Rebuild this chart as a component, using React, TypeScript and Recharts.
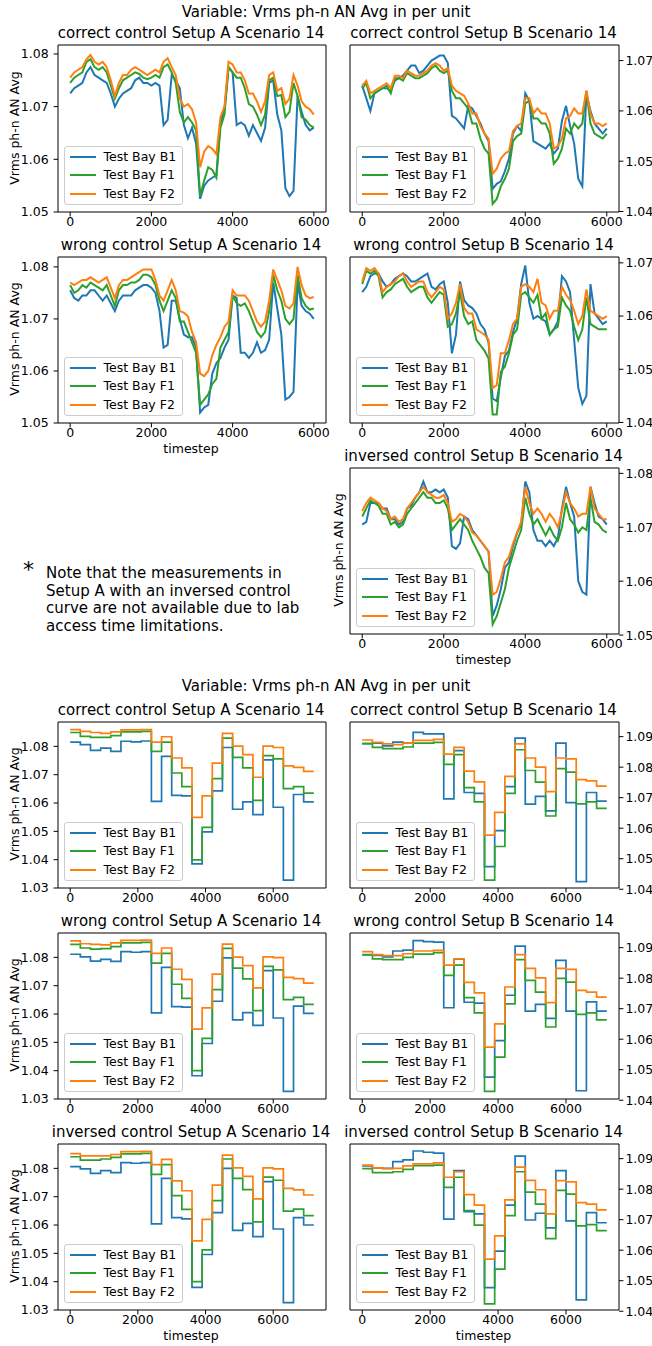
import React from 'react';
import { LineChart, Line, XAxis, YAxis, ReferenceArea, Legend } from 'recharts';

const FONT = '"DejaVu Sans", Verdana, sans-serif';
const TICK_FS = 12.5;
const TITLE_FS = 15;

// timesteps of the raw measurements (read every 100 steps)
const tsFine = [
  0, 100, 200, 300, 400, 500, 600, 700, 800, 900,
  1000, 1100, 1200, 1300, 1400, 1500, 1600, 1700, 1800, 1900,
  2000, 2100, 2200, 2300, 2400, 2500, 2600, 2700, 2800, 2900,
  3000, 3100, 3200, 3300, 3400, 3500, 3600, 3700, 3800, 3900,
  4000, 4100, 4200, 4300, 4400, 4500, 4600, 4700, 4800, 4900,
  5000, 5100, 5200, 5300, 5400, 5500, 5600, 5700, 5800, 5900,
  6000,
];

// step boundaries of the simulated profiles
const tsStep = [
  0, 300, 600, 900, 1200, 1500, 1800, 2100, 2400, 2700, 3000, 3300,
  3600, 3900, 4200, 4500, 4800, 5100, 5400, 5700, 6000, 6300, 6600, 6900, 7200,
];

// ---- measurements: correct control, setup A
const corrA_b1 = [
  1.0725, 1.0735, 1.0740, 1.0745, 1.0765, 1.0775, 1.0760, 1.0755, 1.0750, 1.0745,
  1.0725, 1.0700, 1.0715, 1.0725, 1.0730, 1.0735, 1.0750, 1.0755, 1.0745, 1.0745,
  1.0740, 1.0745, 1.0740, 1.0665, 1.0675, 1.0760, 1.0750, 1.0735, 1.0665, 1.0640,
  1.0660, 1.0630, 1.0525, 1.0550, 1.0560, 1.0565, 1.0570, 1.0670, 1.0695, 1.0775,
  1.0765, 1.0665, 1.0670, 1.0665, 1.0645, 1.0665, 1.0650, 1.0635, 1.0660, 1.0745,
  1.0750, 1.0685, 1.0655, 1.0545, 1.0530, 1.0540, 1.0720, 1.0690, 1.0665, 1.0655,
  1.0660,
];
const corrA_f1 = [
  1.0745, 1.0755, 1.0760, 1.0765, 1.0785, 1.0790, 1.0775, 1.0770, 1.0775, 1.0765,
  1.0740, 1.0715, 1.0735, 1.0750, 1.0755, 1.0760, 1.0765, 1.0762, 1.0755, 1.0752,
  1.0755, 1.0760, 1.0755, 1.0775, 1.0780, 1.0765, 1.0745, 1.0690, 1.0670, 1.0680,
  1.0670, 1.0655, 1.0530, 1.0560, 1.0585, 1.0580, 1.0565, 1.0660, 1.0685, 1.0775,
  1.0765, 1.0755, 1.0755, 1.0735, 1.0705, 1.0700, 1.0685, 1.0665, 1.0685, 1.0750,
  1.0755, 1.0720, 1.0722, 1.0680, 1.0690, 1.0745, 1.0720, 1.0680, 1.0675, 1.0665,
  1.0660,
];
const corrA_f2 = [
  1.0755, 1.0765, 1.0770, 1.0775, 1.0790, 1.0798, 1.0785, 1.0780, 1.0785, 1.0775,
  1.0750, 1.0720, 1.0745, 1.0760, 1.0760, 1.0770, 1.0775, 1.0770, 1.0765, 1.0760,
  1.0765, 1.0770, 1.0765, 1.0785, 1.0792, 1.0775, 1.0760, 1.0715, 1.0700, 1.0705,
  1.0695, 1.0670, 1.0585, 1.0615, 1.0625, 1.0620, 1.0610, 1.0680, 1.0700, 1.0785,
  1.0780, 1.0765, 1.0765, 1.0750, 1.0725, 1.0725, 1.0710, 1.0690, 1.0710, 1.0760,
  1.0765, 1.0730, 1.0735, 1.0705, 1.0715, 1.0760, 1.0740, 1.0710, 1.0700, 1.0695,
  1.0685,
];

// ---- measurements: correct control, setup B
const corrB_b1 = [
  1.0650, 1.0625, 1.0600, 1.0635, 1.0640, 1.0645, 1.0645, 1.0640, 1.0660, 1.0665,
  1.0670, 1.0680, 1.0690, 1.0690, 1.0675, 1.0680, 1.0690, 1.0700, 1.0705, 1.0710,
  1.0710, 1.0695, 1.0590, 1.0585, 1.0575, 1.0565, 1.0610, 1.0605, 1.0590, 1.0575,
  1.0555, 1.0540, 1.0445, 1.0455, 1.0460, 1.0480, 1.0505, 1.0555, 1.0570, 1.0560,
  1.0635, 1.0620, 1.0540, 1.0535, 1.0530, 1.0525, 1.0535, 1.0515, 1.0525, 1.0580,
  1.0610, 1.0570, 1.0535, 1.0465, 1.0450, 1.0635, 1.0600, 1.0575, 1.0565, 1.0555,
  1.0565,
];
const corrB_f1 = [
  1.0645, 1.0655, 1.0625, 1.0635, 1.0640, 1.0645, 1.0650, 1.0635, 1.0665, 1.0665,
  1.0660, 1.0675, 1.0670, 1.0665, 1.0665, 1.0670, 1.0675, 1.0685, 1.0690, 1.0680,
  1.0675, 1.0680, 1.0640, 1.0625, 1.0625, 1.0615, 1.0605, 1.0575, 1.0575, 1.0545,
  1.0525, 1.0515, 1.0415, 1.0425, 1.0450, 1.0465, 1.0485, 1.0540, 1.0550, 1.0555,
  1.0615, 1.0620, 1.0585, 1.0585, 1.0575, 1.0575, 1.0555, 1.0495, 1.0505, 1.0525,
  1.0565, 1.0555, 1.0575, 1.0565, 1.0575, 1.0640, 1.0575, 1.0555, 1.0550, 1.0545,
  1.0555,
];
const corrB_f2 = [
  1.0650, 1.0660, 1.0635, 1.0640, 1.0645, 1.0650, 1.0655, 1.0645, 1.0670, 1.0670,
  1.0665, 1.0680, 1.0675, 1.0670, 1.0670, 1.0675, 1.0680, 1.0690, 1.0695, 1.0690,
  1.0680, 1.0685, 1.0650, 1.0640, 1.0635, 1.0630, 1.0615, 1.0595, 1.0595, 1.0570,
  1.0555, 1.0545, 1.0475, 1.0485, 1.0505, 1.0515, 1.0520, 1.0560, 1.0570, 1.0575,
  1.0625, 1.0625, 1.0595, 1.0605, 1.0595, 1.0595, 1.0575, 1.0525, 1.0530, 1.0545,
  1.0585, 1.0590, 1.0605, 1.0595, 1.0595, 1.0640, 1.0595, 1.0575, 1.0575, 1.0570,
  1.0575,
];

// ---- measurements: wrong control, setup A
const wrongA_b1 = [
  1.0755, 1.0740, 1.0735, 1.0745, 1.0745, 1.0755, 1.0755, 1.0745, 1.0735, 1.0745,
  1.0730, 1.0715, 1.0735, 1.0745, 1.0745, 1.0745, 1.0755, 1.0760, 1.0765, 1.0765,
  1.0760, 1.0750, 1.0715, 1.0645, 1.0650, 1.0735, 1.0735, 1.0700, 1.0670, 1.0665,
  1.0665, 1.0645, 1.0520, 1.0530, 1.0535, 1.0595, 1.0615, 1.0625, 1.0645, 1.0660,
  1.0745, 1.0740, 1.0635, 1.0635, 1.0625, 1.0635, 1.0655, 1.0635, 1.0640, 1.0660,
  1.0770, 1.0720, 1.0670, 1.0545, 1.0550, 1.0560, 1.0770, 1.0725, 1.0715, 1.0710,
  1.0700,
];
const wrongA_f1 = [
  1.0765, 1.0750, 1.0755, 1.0765, 1.0760, 1.0770, 1.0765, 1.0760, 1.0755, 1.0765,
  1.0745, 1.0725, 1.0755, 1.0765, 1.0765, 1.0770, 1.0770, 1.0775, 1.0785, 1.0785,
  1.0780, 1.0765, 1.0735, 1.0715, 1.0735, 1.0755, 1.0740, 1.0695, 1.0695, 1.0675,
  1.0655, 1.0635, 1.0535, 1.0545, 1.0555, 1.0575, 1.0585, 1.0645, 1.0660, 1.0675,
  1.0745, 1.0730, 1.0725, 1.0730, 1.0715, 1.0695, 1.0675, 1.0665, 1.0675, 1.0715,
  1.0785, 1.0755, 1.0735, 1.0700, 1.0690, 1.0700, 1.0785, 1.0740, 1.0725, 1.0718,
  1.0720,
];
const wrongA_f2 = [
  1.0770, 1.0765, 1.0770, 1.0775, 1.0775, 1.0780, 1.0775, 1.0770, 1.0775, 1.0780,
  1.0760, 1.0740, 1.0765, 1.0775, 1.0775, 1.0780, 1.0785, 1.0790, 1.0795, 1.0795,
  1.0795, 1.0775, 1.0745, 1.0735, 1.0755, 1.0775, 1.0755, 1.0715, 1.0712, 1.0705,
  1.0675, 1.0655, 1.0595, 1.0590, 1.0600, 1.0630, 1.0650, 1.0665, 1.0685, 1.0695,
  1.0755, 1.0745, 1.0745, 1.0745, 1.0735, 1.0715, 1.0695, 1.0685, 1.0695, 1.0735,
  1.0795, 1.0775, 1.0755, 1.0725, 1.0720, 1.0730, 1.0800, 1.0765, 1.0745, 1.0740,
  1.0742,
];

// ---- measurements: wrong control, setup B
const wrongB_b1 = [
  1.0645, 1.0655, 1.0675, 1.0680, 1.0680, 1.0665, 1.0655, 1.0660, 1.0670, 1.0675,
  1.0680, 1.0675, 1.0665, 1.0665, 1.0670, 1.0675, 1.0680, 1.0655, 1.0650, 1.0660,
  1.0665, 1.0625, 1.0530, 1.0565, 1.0665, 1.0630, 1.0620, 1.0615, 1.0605, 1.0585,
  1.0575, 1.0550, 1.0445, 1.0440, 1.0485, 1.0525, 1.0535, 1.0570, 1.0595, 1.0660,
  1.0695, 1.0625, 1.0595, 1.0600, 1.0595, 1.0590, 1.0565, 1.0575, 1.0590, 1.0675,
  1.0665, 1.0645, 1.0555, 1.0465, 1.0435, 1.0450, 1.0660, 1.0605, 1.0595, 1.0585,
  1.0590,
];
const wrongB_f1 = [
  1.0660, 1.0685, 1.0680, 1.0685, 1.0675, 1.0635, 1.0645, 1.0650, 1.0660, 1.0665,
  1.0670, 1.0655, 1.0645, 1.0650, 1.0655, 1.0655, 1.0635, 1.0625, 1.0635, 1.0645,
  1.0640, 1.0580, 1.0585, 1.0605, 1.0645, 1.0600, 1.0585, 1.0590, 1.0555, 1.0545,
  1.0535, 1.0520, 1.0415, 1.0415, 1.0495, 1.0505, 1.0530, 1.0565, 1.0575, 1.0640,
  1.0645, 1.0635, 1.0625, 1.0640, 1.0595, 1.0605, 1.0565, 1.0575, 1.0580, 1.0635,
  1.0620, 1.0610, 1.0580, 1.0555, 1.0575, 1.0635, 1.0585, 1.0580, 1.0575, 1.0575,
  1.0575,
];
const wrongB_f2 = [
  1.0665, 1.0690, 1.0685, 1.0690, 1.0680, 1.0645, 1.0655, 1.0660, 1.0665, 1.0675,
  1.0680, 1.0665, 1.0655, 1.0660, 1.0665, 1.0665, 1.0645, 1.0635, 1.0645, 1.0655,
  1.0650, 1.0595, 1.0605, 1.0625, 1.0660, 1.0615, 1.0605, 1.0605, 1.0575, 1.0570,
  1.0565, 1.0555, 1.0465, 1.0470, 1.0530, 1.0530, 1.0555, 1.0585, 1.0595, 1.0655,
  1.0660, 1.0655, 1.0645, 1.0670, 1.0625, 1.0620, 1.0595, 1.0610, 1.0610, 1.0655,
  1.0640, 1.0630, 1.0610, 1.0585, 1.0600, 1.0650, 1.0610, 1.0605, 1.0600, 1.0595,
  1.0600,
];

// ---- measurements: inversed control, setup B
const invB_b1 = [
  1.0705, 1.0710, 1.0745, 1.0745, 1.0745, 1.0735, 1.0735, 1.0715, 1.0715, 1.0705,
  1.0710, 1.0735, 1.0740, 1.0755, 1.0765, 1.0785, 1.0765, 1.0765, 1.0770, 1.0765,
  1.0770, 1.0755, 1.0665, 1.0660, 1.0670, 1.0720, 1.0715, 1.0695, 1.0685, 1.0675,
  1.0665, 1.0655, 1.0535, 1.0555, 1.0585, 1.0625, 1.0635, 1.0665, 1.0690, 1.0705,
  1.0785, 1.0765, 1.0695, 1.0675, 1.0675, 1.0665, 1.0675, 1.0665, 1.0680, 1.0735,
  1.0775, 1.0745, 1.0720, 1.0600, 1.0580, 1.0575, 1.0775, 1.0745, 1.0720, 1.0715,
  1.0705,
];
const invB_f1 = [
  1.0720, 1.0735, 1.0750, 1.0745, 1.0740, 1.0725, 1.0725, 1.0705, 1.0710, 1.0700,
  1.0705, 1.0725, 1.0735, 1.0745, 1.0755, 1.0765, 1.0755, 1.0755, 1.0745, 1.0745,
  1.0750, 1.0735, 1.0695, 1.0705, 1.0715, 1.0705, 1.0695, 1.0675, 1.0660, 1.0645,
  1.0625, 1.0615, 1.0520, 1.0535, 1.0560, 1.0585, 1.0625, 1.0650, 1.0675, 1.0695,
  1.0755, 1.0725, 1.0705, 1.0715, 1.0700, 1.0685, 1.0700, 1.0685, 1.0675, 1.0700,
  1.0745, 1.0715, 1.0705, 1.0690, 1.0700, 1.0695, 1.0755, 1.0710, 1.0705, 1.0695,
  1.0690,
];
const invB_f2 = [
  1.0730, 1.0745, 1.0755, 1.0750, 1.0745, 1.0735, 1.0730, 1.0715, 1.0720, 1.0710,
  1.0715, 1.0735, 1.0745, 1.0755, 1.0765, 1.0775, 1.0765, 1.0760, 1.0755, 1.0755,
  1.0760, 1.0745, 1.0710, 1.0715, 1.0725, 1.0720, 1.0710, 1.0690, 1.0685, 1.0675,
  1.0665, 1.0655, 1.0575, 1.0580, 1.0605, 1.0635, 1.0645, 1.0670, 1.0690, 1.0710,
  1.0775, 1.0745, 1.0725, 1.0735, 1.0725, 1.0710, 1.0725, 1.0715, 1.0700, 1.0730,
  1.0765, 1.0745, 1.0735, 1.0720, 1.0725, 1.0725, 1.0775, 1.0735, 1.0725, 1.0715,
  1.0715,
];

// ---- simulated step profiles (one value per 300-step interval)
const simCorrA_b1 = [1.0815, 1.0806, 1.0786, 1.0794, 1.0782, 1.0818, 1.0816, 1.0819, 1.0606, 1.0765, 1.0627, 1.0625, 1.0385, 1.0498, 1.0643, 1.0796, 1.0578, 1.0604, 1.0559, 1.0752, 1.0585, 1.0328, 1.0630, 1.0604];
const simCorrA_f1 = [1.0849, 1.0835, 1.0832, 1.0832, 1.0838, 1.0851, 1.0851, 1.0853, 1.0782, 1.0815, 1.0706, 1.0658, 1.0399, 1.0514, 1.0686, 1.0829, 1.0761, 1.0724, 1.0609, 1.0767, 1.0756, 1.0651, 1.0658, 1.0635];
const simCorrA_f2 = [1.0859, 1.0853, 1.0849, 1.0846, 1.0851, 1.0858, 1.0858, 1.0859, 1.0815, 1.0834, 1.0759, 1.0724, 1.0549, 1.0625, 1.0741, 1.0846, 1.0801, 1.0771, 1.0691, 1.0801, 1.0796, 1.0731, 1.0726, 1.0712];

const simCorrB_b1 = [1.0877, 1.0879, 1.0870, 1.0882, 1.0879, 1.0914, 1.0909, 1.0909, 1.0696, 1.0854, 1.0717, 1.0714, 1.0474, 1.0592, 1.0736, 1.0895, 1.0679, 1.0704, 1.0657, 1.0879, 1.0684, 1.0425, 1.0717, 1.0689];
const simCorrB_f1 = [1.0877, 1.0865, 1.0861, 1.0861, 1.0866, 1.0879, 1.0879, 1.0881, 1.0809, 1.0841, 1.0733, 1.0686, 1.0430, 1.0540, 1.0714, 1.0857, 1.0789, 1.0751, 1.0640, 1.0795, 1.0784, 1.0680, 1.0686, 1.0665];
const simCorrB_f2 = [1.0889, 1.0881, 1.0876, 1.0874, 1.0879, 1.0888, 1.0888, 1.0891, 1.0843, 1.0865, 1.0787, 1.0752, 1.0577, 1.0652, 1.0770, 1.0876, 1.0830, 1.0800, 1.0720, 1.0830, 1.0827, 1.0759, 1.0755, 1.0738];

const simWrongA_b1 = [1.0811, 1.0802, 1.0787, 1.0793, 1.0786, 1.0820, 1.0818, 1.0820, 1.0604, 1.0765, 1.0626, 1.0624, 1.0382, 1.0496, 1.0645, 1.0798, 1.0579, 1.0605, 1.0560, 1.0753, 1.0586, 1.0327, 1.0628, 1.0602];
const simWrongA_f1 = [1.0846, 1.0833, 1.0829, 1.0831, 1.0838, 1.0851, 1.0851, 1.0853, 1.0780, 1.0814, 1.0705, 1.0655, 1.0400, 1.0514, 1.0686, 1.0832, 1.0762, 1.0724, 1.0612, 1.0768, 1.0756, 1.0651, 1.0659, 1.0634];
const simWrongA_f2 = [1.0858, 1.0848, 1.0846, 1.0844, 1.0851, 1.0860, 1.0860, 1.0861, 1.0814, 1.0833, 1.0758, 1.0722, 1.0547, 1.0622, 1.0741, 1.0847, 1.0801, 1.0771, 1.0692, 1.0802, 1.0799, 1.0729, 1.0725, 1.0709];

const simWrongB_b1 = [1.0877, 1.0875, 1.0870, 1.0889, 1.0892, 1.0923, 1.0920, 1.0918, 1.0703, 1.0862, 1.0721, 1.0718, 1.0476, 1.0595, 1.0744, 1.0905, 1.0692, 1.0714, 1.0668, 1.0858, 1.0692, 1.0431, 1.0722, 1.0692];
const simWrongB_f1 = [1.0876, 1.0863, 1.0861, 1.0861, 1.0868, 1.0879, 1.0879, 1.0884, 1.0809, 1.0843, 1.0736, 1.0686, 1.0429, 1.0541, 1.0716, 1.0861, 1.0793, 1.0754, 1.0640, 1.0799, 1.0787, 1.0681, 1.0686, 1.0663];
const simWrongB_f2 = [1.0887, 1.0877, 1.0874, 1.0874, 1.0880, 1.0889, 1.0889, 1.0891, 1.0843, 1.0863, 1.0786, 1.0752, 1.0574, 1.0650, 1.0771, 1.0877, 1.0832, 1.0801, 1.0720, 1.0832, 1.0829, 1.0760, 1.0754, 1.0738];

const simInvA_b1 = [1.0806, 1.0798, 1.0782, 1.0792, 1.0785, 1.0820, 1.0818, 1.0820, 1.0604, 1.0765, 1.0626, 1.0622, 1.0380, 1.0496, 1.0644, 1.0800, 1.0581, 1.0606, 1.0559, 1.0753, 1.0586, 1.0326, 1.0626, 1.0600];
const simInvA_f1 = [1.0841, 1.0829, 1.0829, 1.0833, 1.0839, 1.0851, 1.0851, 1.0853, 1.0779, 1.0813, 1.0704, 1.0655, 1.0400, 1.0512, 1.0686, 1.0833, 1.0765, 1.0725, 1.0611, 1.0769, 1.0758, 1.0649, 1.0656, 1.0633];
const simInvA_f2 = [1.0852, 1.0844, 1.0844, 1.0844, 1.0849, 1.0859, 1.0859, 1.0860, 1.0813, 1.0832, 1.0756, 1.0721, 1.0544, 1.0620, 1.0741, 1.0847, 1.0802, 1.0772, 1.0692, 1.0802, 1.0798, 1.0729, 1.0724, 1.0706];

const simInvB_b1 = [1.0876, 1.0870, 1.0868, 1.0890, 1.0896, 1.0925, 1.0921, 1.0918, 1.0702, 1.0861, 1.0726, 1.0719, 1.0477, 1.0597, 1.0748, 1.0908, 1.0699, 1.0721, 1.0673, 1.0861, 1.0696, 1.0437, 1.0723, 1.0690];
const simInvB_f1 = [1.0867, 1.0854, 1.0854, 1.0857, 1.0865, 1.0877, 1.0877, 1.0879, 1.0806, 1.0839, 1.0730, 1.0682, 1.0424, 1.0538, 1.0713, 1.0857, 1.0790, 1.0751, 1.0638, 1.0796, 1.0784, 1.0680, 1.0684, 1.0664];
const simInvB_f2 = [1.0879, 1.0870, 1.0867, 1.0868, 1.0876, 1.0883, 1.0883, 1.0886, 1.0839, 1.0857, 1.0782, 1.0748, 1.0571, 1.0647, 1.0765, 1.0872, 1.0829, 1.0798, 1.0719, 1.0828, 1.0824, 1.0756, 1.0751, 1.0732];

const xTicks = [0, 2000, 4000, 6000];
const yTicksA = [1.05, 1.06, 1.07, 1.08];
const yTicksB = [1.04, 1.05, 1.06, 1.07];
const yTicksSimA = [1.03, 1.04, 1.05, 1.06, 1.07, 1.08];
const yTicksSimB = [1.04, 1.05, 1.06, 1.07, 1.08, 1.09];

const SERIES = [
  { key: 'b1', name: 'Test Bay B1', color: '#1f77b4' },
  { key: 'f1', name: 'Test Bay F1', color: '#2ca02c' },
  { key: 'f2', name: 'Test Bay F2', color: '#ff7f0e' },
];

type Row = { t: number; b1: number; f1: number; f2: number };

function measRows(b1: number[], f1: number[], f2: number[]): Row[] {
  return tsFine.map((t, i) => ({ t, b1: b1[i], f1: f1[i], f2: f2[i] }));
}

// last boundary repeats the last interval value so the final step is drawn
function stepRows(b1: number[], f1: number[], f2: number[]): Row[] {
  return tsStep.map((t, i) => {
    const j = Math.min(i, b1.length - 1);
    return { t, b1: b1[j], f1: f1[j], f2: f2[j] };
  });
}

function LegendBox() {
  return (
    <div
      style={{
        width: 119,
        height: 59,
        boxSizing: 'border-box',
        border: '1px solid #cccccc',
        borderRadius: 3,
        background: 'rgba(255,255,255,0.8)',
        position: 'relative',
        fontFamily: FONT,
        fontSize: TICK_FS,
      }}
    >
      {SERIES.map((s, i) => (
        <div key={s.key} style={{ position: 'absolute', left: 0, top: 1.5 + i * 18.3, height: 18, width: '100%' }}>
          <div style={{ position: 'absolute', left: 5, top: 8, width: 26, height: 2, background: s.color }} />
          <span style={{ position: 'absolute', left: 39, top: 0, lineHeight: '18px', whiteSpace: 'nowrap', color: '#000' }}>
            {s.name}
          </span>
        </div>
      ))}
    </div>
  );
}

type PanelProps = {
  x: number;
  y: number;
  w: number;
  h: number;
  title: string;
  side: 'left' | 'right';
  rows: Row[];
  step?: boolean;
  xDomain: [number, number];
  yDomain: [number, number];
  yTicks: number[];
  yLabel?: number; // centre x of the y label, if any
  xLabel?: boolean;
};

function Panel({ x, y, w, h, title, side, rows, step, xDomain, yDomain, yTicks, yLabel, xLabel }: PanelProps) {
  const leftSpace = side === 'left' ? 60 : 10;
  const rightSpace = side === 'right' ? 50 : 10;
  const top = 5;
  const bottom = 35;
  return (
    <>
      {/* half-pixel shift keeps the 1px frame and ticks crisp */}
      <div style={{ position: 'absolute', left: x - leftSpace + 0.5, top: y - top + 0.5 }}>
        <LineChart
          width={leftSpace + w + rightSpace}
          height={top + h + bottom}
          data={rows}
          margin={{ top, right: side === 'right' ? 0 : rightSpace, bottom: 0, left: side === 'left' ? 0 : leftSpace }}
        >
          <XAxis
            dataKey="t"
            type="number"
            domain={xDomain}
            ticks={xTicks}
            interval={0}
            allowDataOverflow
            height={bottom}
            axisLine={false}
            tickLine={{ stroke: '#000' }}
            tickSize={4.4}
            tickMargin={1}
            tick={{ fontSize: TICK_FS, fill: '#000', fontFamily: FONT }}
          />
          <YAxis
            yAxisId="main"
            type="number"
            orientation={side}
            domain={yDomain}
            ticks={yTicks}
            interval={0}
            allowDataOverflow
            width={side === 'left' ? 60 : 50}
            axisLine={false}
            tickLine={{ stroke: '#000' }}
            tickSize={4.4}
            tickMargin={side === 'left' ? 5 : 2}
            tickFormatter={(v: number) => v.toFixed(2)}
            tick={{ fontSize: TICK_FS, fill: '#000', fontFamily: FONT }}
          />
          <ReferenceArea
            yAxisId="main"
            x1={xDomain[0]}
            x2={xDomain[1]}
            y1={yDomain[0]}
            y2={yDomain[1]}
            fill="none"
            stroke="#000"
            strokeWidth={1}
            ifOverflow="visible"
          />
          {SERIES.map((s) => (
            <Line
              key={s.key}
              yAxisId="main"
              dataKey={s.key}
              name={s.name}
              type={step ? 'stepAfter' : 'linear'}
              stroke={s.color}
              strokeWidth={step ? 1.7 : 2}
              dot={false}
              isAnimationActive={false}
            />
          ))}
          <Legend
            layout="horizontal"
            align="center"
            verticalAlign="middle"
            width={119}
            height={59}
            wrapperStyle={{ left: leftSpace + 6, top: top + h - 7 - 59 }}
            content={() => <LegendBox />}
          />
        </LineChart>
      </div>
      <div
        style={{
          position: 'absolute',
          left: x + w / 2,
          top: y - 11,
          transform: 'translate(-50%, -50%)',
          whiteSpace: 'nowrap',
          fontSize: TITLE_FS,
        }}
      >
        {title}
      </div>
      {yLabel !== undefined && (
        <div
          style={{
            position: 'absolute',
            left: yLabel,
            top: y + h / 2,
            transform: 'translate(-50%, -50%) rotate(-90deg)',
            whiteSpace: 'nowrap',
            fontSize: TICK_FS,
          }}
        >
          Vrms ph-n AN Avg
        </div>
      )}
      {xLabel && (
        <div
          style={{
            position: 'absolute',
            left: x + w / 2,
            top: y + h + 26,
            transform: 'translate(-50%, -50%)',
            whiteSpace: 'nowrap',
            fontSize: TICK_FS,
          }}
        >
          timestep
        </div>
      )}
    </>
  );
}

const SUPTITLE = 'Variable: Vrms ph-n AN Avg in per unit';

export default function App() {
  const LX = 57;
  const RX = 349;
  const W = 268;
  const H = 166;
  const xFine: [number, number] = [-300, 6300];
  const xStep: [number, number] = [-360, 7560];
  const domSimA: [number, number] = [1.03, 1.0886];
  const domSimB: [number, number] = [1.0404, 1.0948];
  return (
    <div
      style={{
        position: 'absolute',
        left: 0,
        top: 0,
        width: 652,
        height: 1346,
        background: '#fff',
        fontFamily: FONT,
        color: '#000',
        overflow: 'hidden',
      }}
    >
      <div style={{ position: 'absolute', left: 326, top: 12, transform: 'translate(-50%, -50%)', whiteSpace: 'nowrap', fontSize: TITLE_FS }}>
        {SUPTITLE}
      </div>

      <Panel x={LX} y={44} w={W} h={167} title="correct control Setup A Scenario 14" side="left"
        rows={measRows(corrA_b1, corrA_f1, corrA_f2)} xDomain={xFine} yDomain={[1.05, 1.0817]} yTicks={yTicksA} yLabel={14} />
      <Panel x={RX} y={44} w={269} h={167} title="correct control Setup B Scenario 14" side="right"
        rows={measRows(corrB_b1, corrB_f1, corrB_f2)} xDomain={xFine} yDomain={[1.0399, 1.0731]} yTicks={yTicksB} />
      <Panel x={LX} y={256} w={W} h={H} title="wrong control Setup A Scenario 14" side="left"
        rows={measRows(wrongA_b1, wrongA_f1, wrongA_f2)} xDomain={xFine} yDomain={[1.05, 1.0819]} yTicks={yTicksA} yLabel={14} xLabel />
      <Panel x={RX} y={256} w={269} h={H} title="wrong control Setup B Scenario 14" side="right"
        rows={measRows(wrongB_b1, wrongB_f1, wrongB_f2)} xDomain={xFine} yDomain={[1.0399, 1.0711]} yTicks={yTicksB} />
      <Panel x={RX} y={467} w={269} h={H} title="inversed control Setup B Scenario 14" side="right"
        rows={measRows(invB_b1, invB_f1, invB_f2)} xDomain={xFine} yDomain={[1.0502, 1.081]} yTicks={yTicksA} yLabel={338} xLabel />

      <div style={{ position: 'absolute', left: 23, top: 559, fontSize: 22, lineHeight: '22px' }}>*</div>
      <div style={{ position: 'absolute', left: 46, top: 565, fontSize: TITLE_FS, lineHeight: '17.5px', whiteSpace: 'nowrap' }}>
        <div>Note that the measurements in</div>
        <div>Setup A with an inversed control</div>
        <div>curve are not available due to lab</div>
        <div>access time limitations.</div>
      </div>

      <div style={{ position: 'absolute', left: 326, top: 686, transform: 'translate(-50%, -50%)', whiteSpace: 'nowrap', fontSize: TITLE_FS }}>
        {SUPTITLE}
      </div>

      <Panel x={LX} y={721} w={W} h={H} title="correct control Setup A Scenario 14" side="left" step
        rows={stepRows(simCorrA_b1, simCorrA_f1, simCorrA_f2)} xDomain={xStep} yDomain={domSimA} yTicks={yTicksSimA} yLabel={14} />
      <Panel x={RX} y={721} w={269} h={H} title="correct control Setup B Scenario 14" side="right" step
        rows={stepRows(simCorrB_b1, simCorrB_f1, simCorrB_f2)} xDomain={xStep} yDomain={domSimB} yTicks={yTicksSimB} />
      <Panel x={LX} y={932} w={W} h={H} title="wrong control Setup A Scenario 14" side="left" step
        rows={stepRows(simWrongA_b1, simWrongA_f1, simWrongA_f2)} xDomain={xStep} yDomain={domSimA} yTicks={yTicksSimA} yLabel={14} />
      <Panel x={RX} y={932} w={269} h={H} title="wrong control Setup B Scenario 14" side="right" step
        rows={stepRows(simWrongB_b1, simWrongB_f1, simWrongB_f2)} xDomain={xStep} yDomain={domSimB} yTicks={yTicksSimB} />
      <Panel x={LX} y={1143} w={W} h={H} title="inversed control Setup A Scenario 14" side="left" step
        rows={stepRows(simInvA_b1, simInvA_f1, simInvA_f2)} xDomain={xStep} yDomain={domSimA} yTicks={yTicksSimA} yLabel={14} xLabel />
      <Panel x={RX} y={1143} w={269} h={H} title="inversed control Setup B Scenario 14" side="right" step
        rows={stepRows(simInvB_b1, simInvB_f1, simInvB_f2)} xDomain={xStep} yDomain={domSimB} yTicks={yTicksSimB} xLabel />
    </div>
  );
}
